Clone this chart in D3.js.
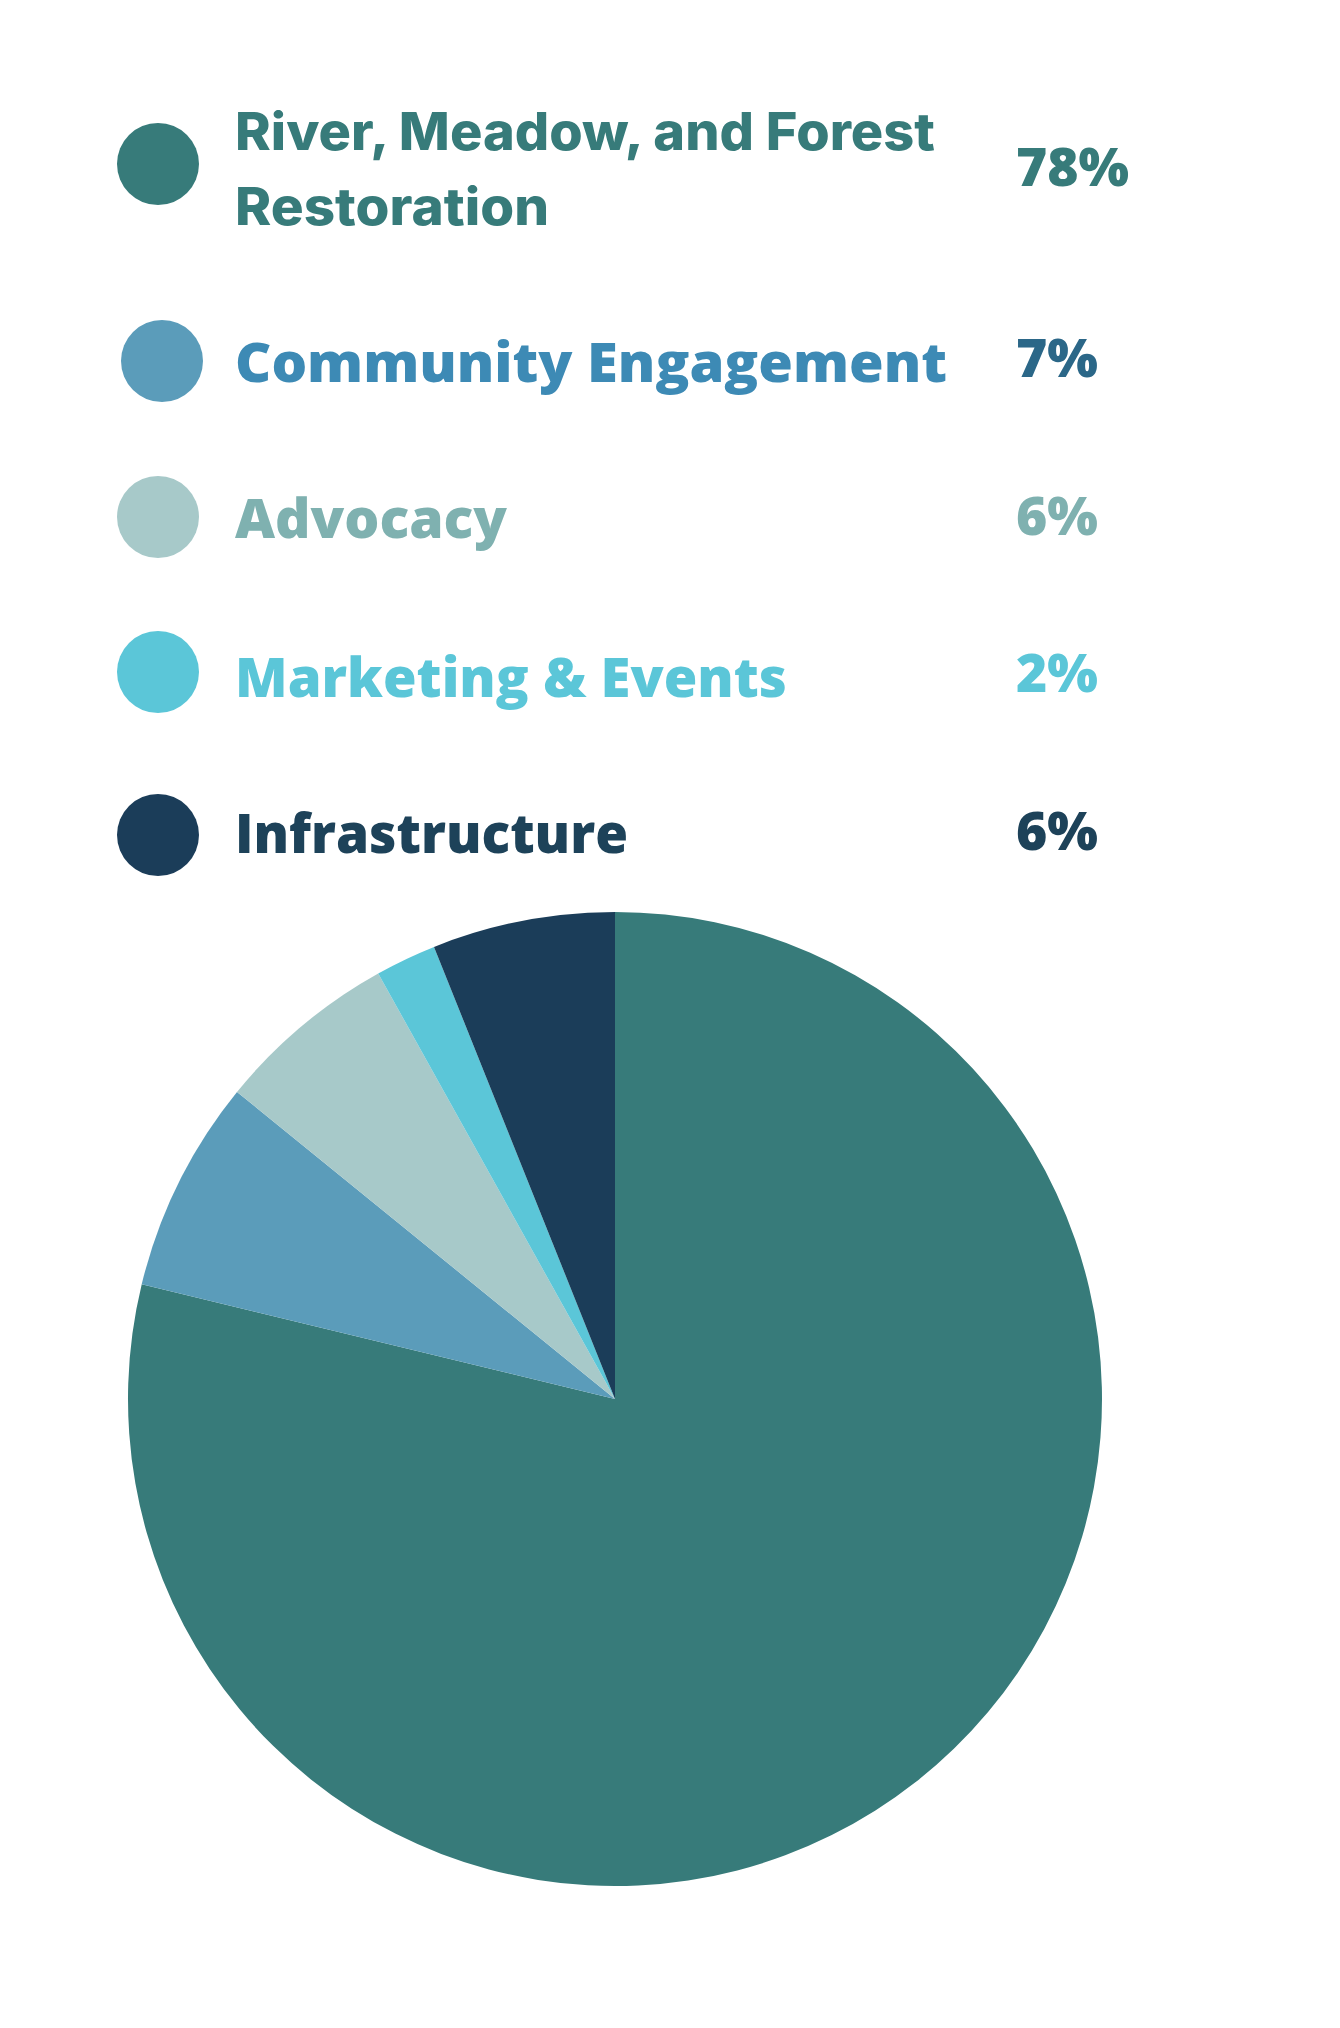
<!DOCTYPE html>
<html>
<head>
<meta charset="utf-8">
<script src="https://cdn.jsdelivr.net/npm/d3@7/dist/d3.min.js"></script>
<style>
  html, body { margin: 0; padding: 0; background: #ffffff; }
  svg { display: block; }
</style>
</head>
<body>
<div id="chart"></div>
<script>
// ---- data ----
const categories = [
  "River, Meadow, and Forest Restoration",
  "Community Engagement",
  "Advocacy",
  "Marketing & Events",
  "Infrastructure"
];
const values = [78, 7, 6, 2, 6];
const percentLabels = ["78%", "7%", "6%", "2%", "6%"];
const labelLines = [
  ["River, Meadow, and Forest", "Restoration"],
  ["Community Engagement"],
  ["Advocacy"],
  ["Marketing & Events"],
  ["Infrastructure"]
];

// ---- styles ----
const sliceColors = ["#377B7A", "#5B9CBA", "#A7C9C9", "#5BC6D8", "#1B3D59"];
const labelColors = ["#377B7A", "#3D8AB5", "#7FB1B0", "#5BC6D8", "#1D4259"];
const pctColors   = ["#377B7A", "#2B6788", "#7FB1B0", "#5BC6D8", "#1D4259"];

// ---- layout ----
const W = 1340, H = 2028;
const legendLayout = [
  { cx: 158, cy: 164, baselines: [150, 225], pctBase: 186, widths: [700, 314], pctW: 113, font: "Inter", size: 52, weight: 800 },
  { cx: 162, cy: 361, baselines: [382], pctBase: 377, widths: [712], pctW: 82, font: "Open Sans", size: 55, weight: 800 },
  { cx: 158, cy: 517, baselines: [538], pctBase: 535, widths: [272], pctW: 82, font: "Open Sans", size: 55, weight: 800 },
  { cx: 158, cy: 672, baselines: [697], pctBase: 692, widths: [552], pctW: 82, font: "Open Sans", size: 55, weight: 800 },
  { cx: 158, cy: 835, baselines: [853], pctBase: 850, widths: [393], pctW: 82, font: "Open Sans", size: 55, weight: 800 }
];
const textX = 235, pctX = 1016, dotR = 41;
const pieCx = 615, pieCy = 1399, pieR = 487;

const svg = d3.select("#chart").append("svg")
  .attr("width", W).attr("height", H)
  .attr("viewBox", `0 0 ${W} ${H}`);

svg.append("rect").attr("width", W).attr("height", H).attr("fill", "#ffffff");

// ---- legend ----
const rows = svg.append("g").attr("class", "legend")
  .selectAll("g").data(categories).join("g");

rows.append("circle")
  .attr("cx", (d, i) => legendLayout[i].cx)
  .attr("cy", (d, i) => legendLayout[i].cy)
  .attr("r", dotR)
  .attr("fill", (d, i) => sliceColors[i]);

rows.each(function (d, i) {
  const g = d3.select(this);
  const L = legendLayout[i];
  labelLines[i].forEach((line, j) => {
    g.append("text")
      .attr("x", textX)
      .attr("y", L.baselines[j])
      .attr("font-family", L.font + ", 'Open Sans', sans-serif")
      .attr("font-weight", L.weight)
      .attr("font-size", L.size)
      .attr("fill", labelColors[i])
      .attr("textLength", L.widths[j])
      .attr("lengthAdjust", "spacingAndGlyphs")
      .text(line);
  });
  g.append("text")
    .attr("x", pctX)
    .attr("y", L.pctBase)
    .attr("font-family", "'Open Sans', sans-serif")
    .attr("font-weight", 800)
    .attr("font-size", 53)
    .attr("fill", pctColors[i])
    .attr("textLength", L.pctW)
    .attr("lengthAdjust", "spacingAndGlyphs")
    .text(percentLabels[i]);
});

// ---- pie ----
const pie = d3.pie().sort(null).value(d => d).startAngle(0).endAngle(2 * Math.PI);
const arc = d3.arc().innerRadius(0).outerRadius(pieR);

svg.append("g")
  .attr("transform", `translate(${pieCx},${pieCy})`)
  .selectAll("path")
  .data(pie(values))
  .join("path")
  .attr("d", arc)
  .attr("fill", (d, i) => sliceColors[i]);
</script>
</body>
</html>
